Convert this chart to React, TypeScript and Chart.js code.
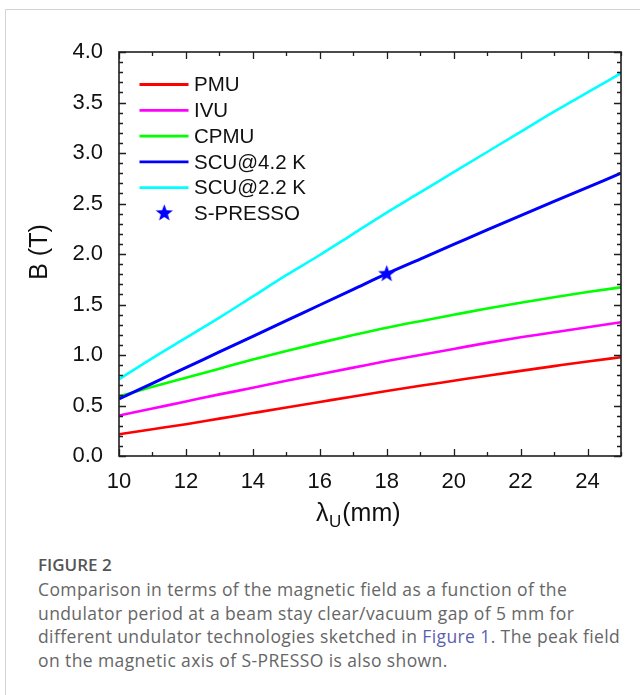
import React, { useEffect, useRef } from "react";
import { Chart, registerables } from "chart.js";

Chart.register(...registerables);

// ---- data ----
const periods = [10, 11, 12, 13, 14, 15, 16, 17, 18, 19, 20, 21, 22, 23, 24, 25];
const pmu = [0.215, 0.265, 0.315, 0.37, 0.425, 0.48, 0.535, 0.59, 0.643, 0.695, 0.745, 0.795, 0.843, 0.89, 0.936, 0.978];
const ivu = [0.4, 0.47, 0.54, 0.61, 0.675, 0.745, 0.81, 0.875, 0.94, 1.0, 1.06, 1.12, 1.175, 1.225, 1.275, 1.325];
const cpmu = [0.59, 0.685, 0.775, 0.865, 0.955, 1.04, 1.12, 1.197, 1.27, 1.335, 1.398, 1.46, 1.518, 1.572, 1.623, 1.67];
const scu42 = [0.565, 0.72, 0.875, 1.03, 1.185, 1.34, 1.495, 1.65, 1.805, 1.95, 2.095, 2.24, 2.38, 2.52, 2.66, 2.8];
const scu22 = [0.76, 0.97, 1.17, 1.37, 1.58, 1.79, 1.99, 2.2, 2.41, 2.61, 2.81, 3.01, 3.21, 3.41, 3.6, 3.79];
const spressoPeriod = [18];
const spressoField = [1.81];

const seriesLabels = ["PMU", "IVU", "CPMU", "SCU@4.2 K", "SCU@2.2 K", "S-PRESSO"];
const seriesColors = ["#ff0000", "#ff00ff", "#00ff00", "#0000ff", "#00ffff", "#0000ff"];

const xMin = 10;
const xMax = 25;
const xMajorStep = 2;
const yMin = 0;
const yMax = 4;
const yMajorStep = 0.5;

const FONT = "'Liberation Sans', Arial, Helvetica, sans-serif";

function makeStar(size: number, color: string): HTMLCanvasElement {
  const c = document.createElement("canvas");
  c.width = size;
  c.height = size;
  const ctx = c.getContext("2d")!;
  const cx = size / 2;
  const cy = size / 2 + 0.8;
  const R = size / 2 - 0.5;
  const r = R * 0.42;
  ctx.beginPath();
  for (let i = 0; i < 10; i++) {
    const ang = -Math.PI / 2 + (i * Math.PI) / 5;
    const rad = i % 2 === 0 ? R : r;
    ctx.lineTo(cx + rad * Math.cos(ang), cy + rad * Math.sin(ang));
  }
  ctx.closePath();
  ctx.fillStyle = color;
  ctx.fill();
  return c;
}

export default function App() {
  const ref = useRef<HTMLCanvasElement | null>(null);

  useEffect(() => {
    if (!ref.current) return;
    const star = makeStar(19, seriesColors[5]);
    const lineSeries = [pmu, ivu, cpmu, scu42, scu22];

    const datasets: any[] = lineSeries.map((vals, i) => ({
      type: "line",
      label: seriesLabels[i],
      data: periods.map((p, j) => ({ x: p, y: vals[j] })),
      borderColor: seriesColors[i],
      backgroundColor: seriesColors[i],
      borderWidth: i === 3 ? 3 : 2.6,
      pointRadius: 0,
      cubicInterpolationMode: "monotone",
      fill: false,
      order: i === 3 ? -1 : i,
    }));
    datasets.push({
      type: "scatter",
      label: seriesLabels[5],
      data: spressoPeriod.map((p, j) => ({ x: p, y: spressoField[j] })),
      pointStyle: star,
      pointRadius: 9,
      showLine: false,
      borderColor: seriesColors[5],
      backgroundColor: seriesColors[5],
      order: -2,
    });

    const framePlugin = {
      id: "frame",
      afterDatasetsDraw(chart: any) {
        const { ctx, chartArea: a, scales } = chart;
        const xs = scales.x;
        const ys = scales.y;
        ctx.save();
        // box
        ctx.strokeStyle = "#1e1e1e";
        ctx.lineWidth = 1.6;
        ctx.strokeRect(a.left, a.top, a.right - a.left, a.bottom - a.top);
        // ticks (inward, on all four sides)
        ctx.lineWidth = 1.3;
        ctx.beginPath();
        for (let v = xMin; v <= xMax; v += 1) {
          const px = Math.round(xs.getPixelForValue(v)) + 0.5;
          const L = (v - xMin) % xMajorStep === 0 ? 7 : 4;
          ctx.moveTo(px, a.bottom);
          ctx.lineTo(px, a.bottom - L);
          ctx.moveTo(px, a.top);
          ctx.lineTo(px, a.top + L);
        }
        for (let i = 0; i <= 40; i++) {
          const v = yMin + i * 0.1;
          const py = Math.round(ys.getPixelForValue(v)) + 0.5;
          const L = i % 5 === 0 ? 7 : 4;
          ctx.moveTo(a.left, py);
          ctx.lineTo(a.left + L, py);
          ctx.moveTo(a.right, py);
          ctx.lineTo(a.right - L, py);
        }
        ctx.stroke();

        // legend
        const rowY0 = 84.5;
        const rowDy = 25.8;
        chart.data.datasets.forEach((ds: any, i: number) => {
          const y = rowY0 + i * rowDy;
          if (ds.type === "scatter") {
            ctx.drawImage(star, 164.3 - 9.5, y - 10.5);
          } else {
            ctx.strokeStyle = ds.borderColor;
            ctx.lineWidth = 2.8;
            ctx.beginPath();
            ctx.moveTo(139.5, y);
            ctx.lineTo(188.5, y);
            ctx.stroke();
          }
          ctx.fillStyle = "#111";
          ctx.font = `20.5px ${FONT}`;
          ctx.textAlign = "left";
          ctx.textBaseline = "middle";
          ctx.fillText(ds.label, 194, y + 1);
        });

        // axis titles
        ctx.fillStyle = "#111";
        ctx.textBaseline = "alphabetic";
        ctx.textAlign = "left";
        let tx = 316;
        const base = 521;
        ctx.font = `25px ${FONT}`;
        ctx.fillText("λ", tx, base);
        tx += ctx.measureText("λ").width + 0.5;
        ctx.font = `17px ${FONT}`;
        ctx.fillText("U", tx, base + 6);
        tx += ctx.measureText("U").width + 1;
        ctx.font = `25px ${FONT}`;
        ctx.fillText("(mm)", tx, base);

        ctx.save();
        ctx.translate(40.5, 252);
        ctx.rotate(-Math.PI / 2);
        ctx.textAlign = "center";
        ctx.textBaseline = "middle";
        ctx.font = `25px ${FONT}`;
        ctx.fillText("B (T)", 0, 0);
        ctx.restore();

        ctx.restore();
      },
    };

    const chart = new Chart(ref.current, {
      type: "line",
      data: { datasets },
      options: {
        responsive: false,
        animation: false,
        devicePixelRatio: 1,
        layout: { padding: { left: 0, right: 19, top: 52, bottom: 0 } },
        plugins: {
          legend: { display: false },
          tooltip: { enabled: false },
          title: { display: false },
        },
        scales: {
          x: {
            type: "linear",
            min: xMin,
            max: xMax,
            grid: { display: false },
            border: { display: false },
            ticks: {
              stepSize: xMajorStep,
              includeBounds: false,
              maxRotation: 0,
              autoSkip: false,
              padding: 5,
              color: "#111",
              font: { family: FONT, size: 22 },
              callback: (v: any) => String(v),
            },
            afterFit: (s: any) => {
              s.height = 84;
            },
          },
          y: {
            type: "linear",
            min: yMin,
            max: yMax,
            grid: { display: false },
            border: { display: false },
            ticks: {
              stepSize: yMajorStep,
              padding: 8,
              color: "#111",
              font: { family: FONT, size: 22 },
              callback: (v: any) => Number(v).toFixed(1),
            },
            afterFit: (s: any) => {
              s.width = 119;
            },
          },
        },
      } as any,
      plugins: [framePlugin],
    });
    return () => chart.destroy();
  }, []);

  const captionStyle: React.CSSProperties = {
    position: "absolute",
    left: 38,
    top: 578,
    fontFamily: "'Open Sans', 'Noto Sans', sans-serif",
    fontSize: 17.5,
    letterSpacing: "0.4px",
    lineHeight: "23.5px",
    color: "#666",
    whiteSpace: "nowrap",
  };

  return (
    <div style={{ position: "absolute", left: 0, top: 0, width: 640, height: 695, overflow: "hidden", background: "#fff" }}>
      <div
        style={{
          position: "absolute",
          left: 5,
          top: 9,
          width: 700,
          height: 720,
          borderTop: "1px solid #d4d4d4",
          borderLeft: "1px solid #d4d4d4",
        }}
      />
      <canvas ref={ref} width={640} height={540} style={{ position: "absolute", left: 0, top: 0 }} />
      <div
        style={{
          position: "absolute",
          left: 38,
          top: 555,
          fontFamily: "'Open Sans', 'Noto Sans', sans-serif",
          fontWeight: 600,
          fontSize: 17,
          lineHeight: "20px",
          color: "#555",
        }}
      >
        FIGURE 2
      </div>
      <div style={captionStyle}>
        Comparison in terms of the magnetic field as a function of the
        <br />
        undulator period at a beam stay clear/vacuum gap of 5 mm for
        <br />
        different undulator technologies sketched in <span style={{ color: "#5b5fb0" }}>Figure 1</span>. The peak field
        <br />
        on the magnetic axis of S-PRESSO is also shown.
      </div>
    </div>
  );
}
